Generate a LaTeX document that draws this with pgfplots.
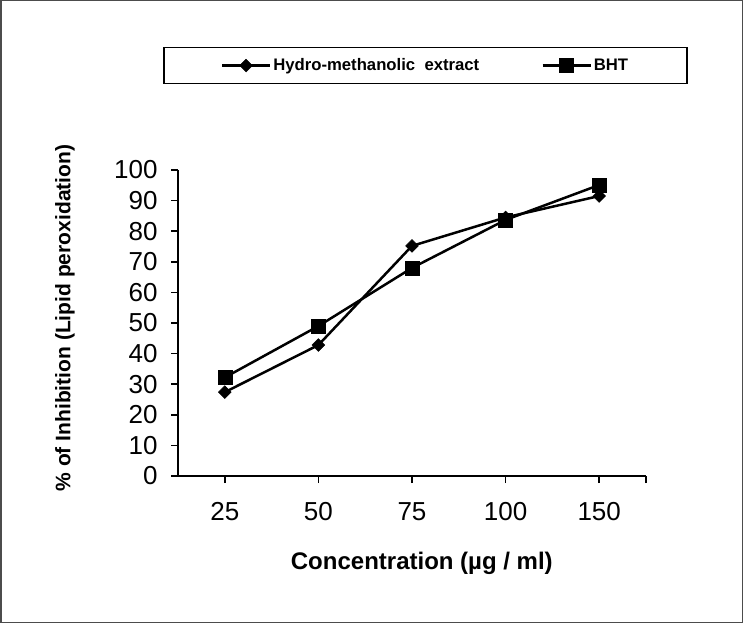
\documentclass[border=0pt]{standalone}
\usepackage{pgfplots}
\pgfplotsset{compat=1.18}
\usepackage{fontspec}
\setmainfont{Liberation Sans}
\begin{document}
\begin{tikzpicture}[x=1pt,y=1pt]
\draw[line width=1.5pt, black!70] (0.75,-0.75) rectangle (742.25,-622.25);
\begin{axis}[
  at={(178pt,-476pt)}, anchor=south west,
  scale only axis, width=468pt, height=306pt,
  xmin=-0.5, xmax=4.5, ymin=0, ymax=100,
  axis lines*=left,
  axis line style={line width=1.5pt, black},
  xtick={0,1,2,3,4}, xticklabels={25,50,75,100,150},
  extra x ticks={4.5}, extra x tick labels={},
  ytick={0,10,...,100},
  tick align=outside, major tick length=7pt,
  tick style={line width=1.5pt, black},
  /pgf/number format/assume math mode=true,
  tick label style={font=\fontsize{26}{28}\selectfont},
  xticklabel style={yshift=-16pt},
  yticklabel style={xshift=-10pt},
  xlabel={\textbf{Concentration (\textmu g / ml)}},
  ylabel={\textbf{\% of Inhibition (Lipid peroxidation)}},
  every axis x label/.style={at={(axis description cs:0.521,-0.284)}, anchor=center, font=\fontsize{24}{26}\selectfont},
  every axis y label/.style={at={(axis description cs:-0.2415,0.516)}, rotate=90, anchor=center, font=\fontsize{21}{24}\selectfont},
  legend columns=2,
  legend style={at={(axis description cs:-0.032,1.402)}, anchor=north west,
    draw=black, line width=1.5pt, inner xsep=57pt, inner ysep=9pt,
    font=\bfseries\fontsize{16.7}{18}\selectfont,
    /tikz/every even column/.append style={column sep=60pt}},
  legend image code/.code={\draw[mark repeat=2,mark phase=2,#1] plot coordinates {(0pt,0pt) (24pt,0pt) (48pt,0pt)};},
]
\addplot[black, line width=2.5pt, mark=square*, mark options={rotate=45, line width=0.5pt, scale=1}, mark size=4.5pt]
  coordinates {(0,27.4) (1,42.8) (2,75.2) (3,84.5) (4,91.5)};
\addlegendentry{Hydro-methanolic\ \ extract}
\addplot[black, line width=2.5pt, mark=square*, mark options={line width=0.5pt}, mark size=7pt]
  coordinates {(0,32.2) (1,49.0) (2,68.0) (3,83.7) (4,95.1)};
\addlegendentry{BHT}
\end{axis}
\end{tikzpicture}
\end{document}
